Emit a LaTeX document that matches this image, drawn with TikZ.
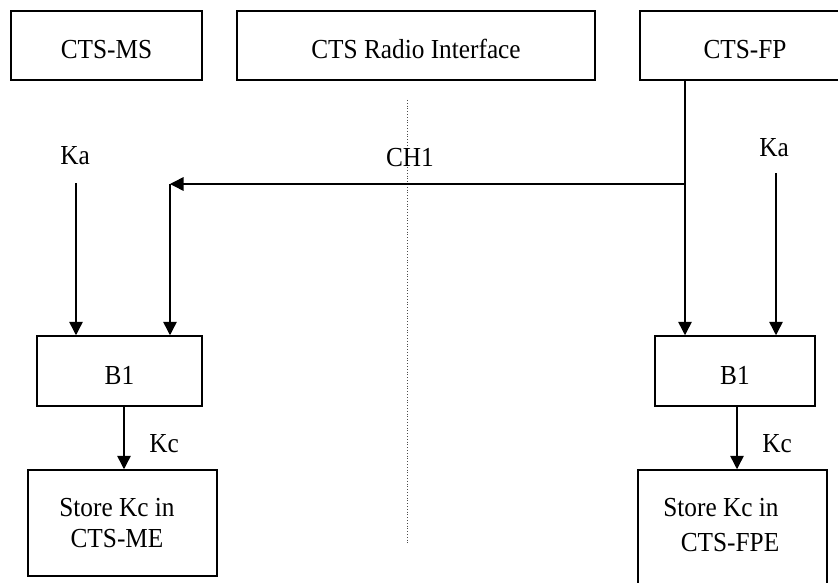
\documentclass[tikz,border=0pt]{standalone}
\usepackage{fontspec}
\setmainfont{Liberation Serif}[FakeStretch=0.92]
\usetikzlibrary{arrows.meta}
\begin{document}
\begin{tikzpicture}[x=1pt,y=-1pt,
  every node/.style={font=\fontsize{27.5}{31}\selectfont},
  box/.style={draw, line width=1.5pt, inner sep=0pt, text height=29pt, text depth=2pt},
  plainbox/.style={draw, line width=1.5pt, inner sep=0pt},
  lbl/.style={inner sep=0pt},
  arr/.style={line width=1.5pt, -{Triangle[length=13.5pt,width=13.5pt]}},
  divider/.style={dotted, line width=0.8pt, black!70}]
\useasboundingbox (0,0) rectangle (838,583);
% top boxes
\node[box, minimum width=191pt, minimum height=69pt] (ms) at (106.5,45.5) {CTS-MS};
\node[box, minimum width=358pt, minimum height=69pt] (radio) at (416,45.5) {CTS Radio Interface};
\node[box, minimum width=210pt, minimum height=69pt] (fp) at (745,45.5) {CTS-FP};
% divider
\coordinate (d1) at (407,100);
\coordinate (d2) at (407,543);
\draw[divider] (d1) -- (d2);
% B1 boxes
\node[box, minimum width=165pt, minimum height=70pt] (b1L) at (119.5,371) {B1};
\node[box, minimum width=160pt, minimum height=70pt] (b1R) at (735,371) {B1};
% store boxes
\node[plainbox, minimum width=189pt, minimum height=106pt] (stL) at (122.5,523) {};
\node[lbl, align=center] (stLt) at (117,523.5) {Store Kc in\\CTS-ME};
\node[plainbox, minimum width=189pt, minimum height=140pt] (stR) at (732.5,540) {};
\node[lbl, align=center] (stRt) at (721,525.5) {Store Kc in\\[4pt]\hspace*{18pt}CTS-FPE};
% labels
\node[lbl] (kaL) at (75,156) {Ka};
\node[lbl] (kaR) at (774,148) {Ka};
\node[lbl] (ch1) at (410,158) {CH1};
\node[lbl] (kcL) at (164,444) {Kc};
\node[lbl] (kcR) at (777,444) {Kc};
% connectors
\coordinate (kaLs) at (76,183);
\coordinate (kaRs) at (776,173);
\coordinate (j) at (685,184);
\coordinate (c) at (170,184);
\draw[arr] (kaLs) -- (kaLs |- b1L.north);
\draw[arr] (kaRs) -- (kaRs |- b1R.north);
\draw[arr] (fp.south -| j) -- (j |- b1R.north);
\draw[arr] (j) -- (c);
\draw[arr] (c) -- (c |- b1L.north);
\draw[arr] ([xshift=4.5pt]b1L.south) -- ([xshift=4.5pt]b1L.south |- stL.north);
\draw[arr] ([xshift=2pt]b1R.south) -- ([xshift=2pt]b1R.south |- stR.north);
\end{tikzpicture}
\end{document}
